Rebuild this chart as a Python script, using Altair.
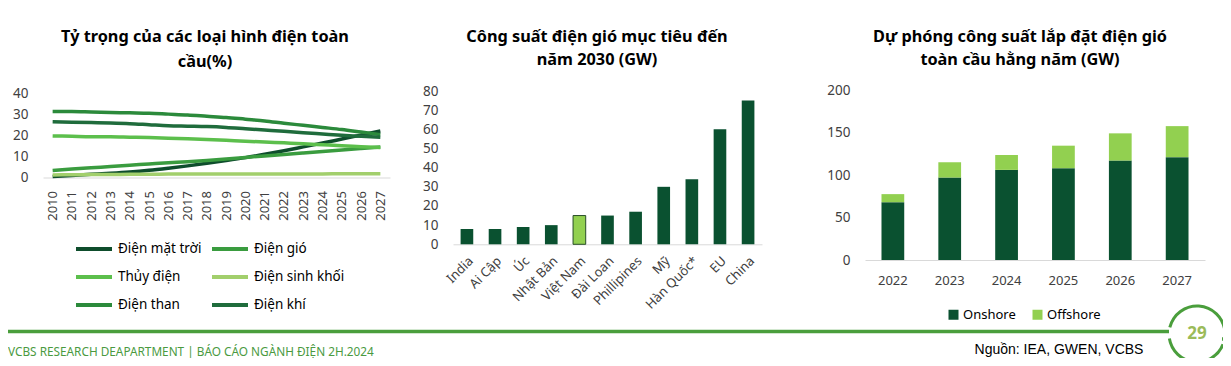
import altair as alt
import pandas as pd

# ---------------- data ----------------
years = list(range(2010, 2028))
series_names = ["Điện mặt trời", "Điện gió", "Thủy điện", "Điện sinh khối", "Điện than", "Điện khí"]
series_colors = ["#0e4d2c", "#3a9c3f", "#5cbf4c", "#a2cf6c", "#2b8a3b", "#1f6c3c"]
# legend is filled column by column: this order shows the reference's row-by-row order
legend_order = ["Điện mặt trời", "Thủy điện", "Điện than", "Điện gió", "Điện sinh khối", "Điện khí"]
solar = [0.5, 1.0, 1.5, 2.0, 2.6, 3.4, 4.4, 5.5, 6.7, 8.0, 9.4, 11.0, 12.7, 14.5, 16.3, 18.2, 20.1, 22.0]
wind = [3.3, 4.0, 4.6, 5.2, 5.8, 6.4, 7.0, 7.5, 8.1, 8.8, 9.5, 10.2, 10.9, 11.6, 12.3, 13.0, 13.7, 14.4]
hydro = [19.7, 19.5, 19.3, 19.3, 19.1, 18.9, 18.6, 18.3, 18.0, 17.6, 17.2, 16.8, 16.4, 16.0, 15.5, 15.0, 14.6, 14.2]
biomass = [1.2, 1.3, 1.4, 1.4, 1.5, 1.5, 1.6, 1.6, 1.6, 1.7, 1.7, 1.7, 1.7, 1.7, 1.7, 1.8, 1.8, 1.8]
coal = [31.2, 31.2, 31.0, 30.8, 30.6, 30.4, 30.0, 29.6, 29.0, 28.4, 27.6, 26.8, 25.7, 24.7, 23.7, 22.7, 21.5, 20.3]
gas = [26.4, 26.2, 26.0, 25.8, 25.5, 25.0, 24.5, 24.3, 24.1, 23.7, 23.1, 22.5, 21.9, 21.2, 20.6, 20.0, 19.5, 19.0]
share_values = [solar, wind, hydro, biomass, coal, gas]

countries = ["India", "Ai Cập", "Úc", "Nhật Bản", "Việt Nam", "Đài Loan",
             "Phillipines", "Mỹ", "Hàn Quốc*", "EU", "China"]
targets = [8, 8, 9, 10, 15, 15, 17, 30, 34, 60, 75]

proj_years = ["2022", "2023", "2024", "2025", "2026", "2027"]
onshore = [68, 97, 106, 108, 117, 121]
offshore = [9.5, 18, 17.5, 26.5, 32, 36.5]

titles_left = ["Tỷ trọng của các loại hình điện toàn", "cầu(%)"]
titles_mid = ["Công suất điện gió mục tiêu đến", "năm 2030 (GW)"]
titles_right = ["Dự phóng công suất lắp đặt điện gió", "toàn cầu hằng năm (GW)"]
footer_left = "VCBS RESEARCH DEAPARTMENT | BÁO CÁO NGÀNH ĐIỆN 2H.2024"
footer_right = "Nguồn: IEA, GWEN, VCBS"
page_no = "29"

# ---------------- tables ----------------
df_share = pd.DataFrame(
    [{"year": y, "series": n, "value": v, "k": k}
     for k, (n, vals) in enumerate(zip(series_names, share_values))
     for y, v in zip(years, vals)]
)
color_of = dict(zip(series_names, series_colors))
df_target = pd.DataFrame({"country": countries, "gw": targets})
df_proj = pd.DataFrame(
    [{"year": y, "type": "Onshore", "value": v, "ord": 0} for y, v in zip(proj_years, onshore)]
    + [{"year": y, "type": "Offshore", "value": v, "ord": 1} for y, v in zip(proj_years, offshore)]
)

FONT = "Noto Sans"
LBL = "#404040"
W, H = 1215, 350
one = alt.Data(values=[{}])


def xaxis(offset, **kw):
    return alt.Axis(orient="bottom", offset=offset, title=None, grid=False, ticks=False, tickSize=0,
                    domainColor="#d9d9d9", domainWidth=1, labelFont=FONT, labelFontSize=13,
                    labelColor=LBL, **kw)


def yaxis(offset, values):
    return alt.Axis(orient="left", offset=offset, title=None, grid=False, ticks=False, tickSize=0,
                    domain=False, values=values, labelFont=FONT, labelFontSize=13.5,
                    labelColor=LBL, labelPadding=15)


def txt(s, x, y, size=16.3, bold=True, color="#000000", font=FONT, align="center"):
    return alt.Chart(one).mark_text(
        text=s, font=font, fontSize=size, fontWeight="bold" if bold else "normal",
        color=color, align=align, baseline="middle"
    ).encode(x=alt.value(x), y=alt.value(y))


# ---------------- left: line chart ----------------
lines = alt.Chart(df_share).mark_line(strokeWidth=3.5, interpolate="monotone").encode(
    x=alt.X("year:O", scale=alt.Scale(type="point", range=[35, 382], padding=0.5),
            axis=xaxis(-180.5, labelAngle=-90, labelPadding=13)),
    y=alt.Y("value:Q", scale=alt.Scale(domain=[0, 40], range=[169.5, 85], nice=False, zero=True),
            axis=yaxis(-35, [0, 10, 20, 30, 40])),
    color=alt.Color("series:N",
                    scale=alt.Scale(domain=legend_order, range=[color_of[n] for n in legend_order]),
                    legend=alt.Legend(orient="none", legendX=66, legendY=221, columns=2,
                                      symbolType="stroke", symbolSize=1296, symbolStrokeWidth=4,
                                      labelFont=FONT, labelFontSize=13.5, labelColor="#000000",
                                      labelOffset=4, rowPadding=-7, columnPadding=2,
                                      title=None, padding=0)),
    order=alt.Order("k:Q"),
)
left = alt.layer(lines, txt(titles_left[0], 197, 29), txt(titles_left[1], 197, 54))

# ---------------- middle: bar chart ----------------
bars = alt.Chart(df_target).mark_bar(stroke="#274d27").encode(
    x=alt.X("country:N", sort=countries,
            scale=alt.Scale(range=[445, 754], paddingInner=0.55, paddingOuter=0.27),
            axis=xaxis(-113.7, labelAngle=-45, labelPadding=10)),
    y=alt.Y("gw:Q", scale=alt.Scale(domain=[0, 80], range=[236.3, 83], nice=False),
            axis=yaxis(-445, list(range(0, 81, 10)))),
    color=alt.condition(alt.datum.country == "Việt Nam", alt.value("#92d050"), alt.value("#0a5130")),
    strokeWidth=alt.condition(alt.datum.country == "Việt Nam", alt.value(1), alt.value(0)),
)
mid = alt.layer(bars, txt(titles_mid[0], 589, 29), txt(titles_mid[1], 589, 52))

# ---------------- right: stacked bars ----------------
stack = alt.Chart(df_proj).mark_bar().encode(
    x=alt.X("year:N", sort=proj_years,
            scale=alt.Scale(range=[857, 1197], paddingInner=0.6, paddingOuter=0.29),
            axis=xaxis(-98, labelAngle=0, labelPadding=14)),
    y=alt.Y("value:Q", stack="zero", scale=alt.Scale(domain=[0, 200], range=[252, 82], nice=False),
            axis=yaxis(-857, [0, 50, 100, 150, 200])),
    color=alt.Color("type:N", scale=alt.Scale(domain=["Onshore", "Offshore"], range=["#0a5130", "#92d050"]),
                    legend=alt.Legend(orient="none", legendX=939, legendY=300, direction="horizontal",
                                      symbolType="square", symbolSize=100, symbolStrokeWidth=0,
                                      labelFont=FONT, labelFontSize=13, labelColor="#000000",
                                      labelOffset=3, columnPadding=15, title=None, padding=0)),
    order=alt.Order("ord:Q", sort="ascending"),
)
right = alt.layer(stack, txt(titles_right[0], 1012, 29), txt(titles_right[1], 1012, 52))

# ---------------- footer ----------------
GREEN = "#4a9e3c"
rule1 = alt.Chart(one).mark_rule(color=GREEN, strokeWidth=3.5).encode(
    x=alt.value(0), x2=alt.value(1161), y=alt.value(323.5))
rule2 = alt.Chart(one).mark_rule(color=GREEN, strokeWidth=3.5).encode(
    x=alt.value(1214), x2=alt.value(1223), y=alt.value(331))
arc_top = alt.Chart(one).mark_arc(color=GREEN, radius=29.5, radius2=26.5).encode(
    x=alt.value(1189), y=alt.value(326), theta=alt.value(4.95), theta2=alt.value(7.75))
arc_bot = alt.Chart(one).mark_arc(color=GREEN, radius=29.5, radius2=26.5).encode(
    x=alt.value(1189), y=alt.value(326), theta=alt.value(1.95), theta2=alt.value(4.55))
footer = alt.layer(
    rule1, rule2, arc_top, arc_bot,
    txt(page_no, 1189, 326, size=17, bold=True, color="#9bbb59"),
    txt(footer_left, 0, 343.5, size=11.8, bold=False, color="#4a9a3f", align="left"),
    txt(footer_right, 1051, 342, size=14, bold=False, color="#000000", font="Liberation Sans"),
)

chart = alt.layer(left, mid, right, footer).resolve_scale(
    x="independent", y="independent", color="independent"
).properties(
    width=W, height=H, padding=0, autosize=alt.AutoSizeParams(type="none"), background="white"
).configure_view(strokeWidth=0)

chart.save("out.html", embed_options={"renderer": "svg", "actions": False})
